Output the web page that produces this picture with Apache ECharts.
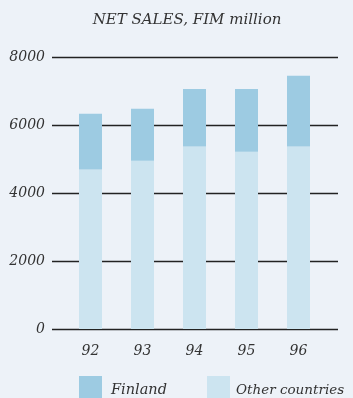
<!DOCTYPE html>
<html>
<head>
<meta charset="utf-8">
<script src="https://cdn.jsdelivr.net/npm/echarts@6/dist/echarts.min.js"></script>
<style>
  html, body { margin: 0; padding: 0; background: #edf2f8; }
  #chart { width: 353px; height: 398px; }
</style>
</head>
<body>
<div id="chart"></div>
<script>
var years = ['92', '93', '94', '95', '96'];
var otherCountries = [4690, 4950, 5370, 5210, 5370];
var finland = [1640, 1530, 1690, 1850, 2080];
var yTicks = [0, 2000, 4000, 6000, 8000];

var serif = 'DejaVu Serif';
var textColor = '#333';

var chart = echarts.init(document.getElementById('chart'));
var option = {
    backgroundColor: '#edf2f8',
    title: {
        text: 'NET SALES, FIM million',
        left: 187, top: 13, textAlign: 'center', padding: 0,
        textStyle: { fontFamily: serif, fontStyle: 'italic', fontWeight: 'normal', fontSize: 15, color: textColor }
    },
    legend: [{
        data: ['Finland'], left: 79, top: 376, itemWidth: 23, itemHeight: 28,
        icon: 'rect', itemGap: 0, padding: 0,
        textStyle: { fontFamily: serif, fontStyle: 'italic', fontSize: 14.5, color: textColor, padding: [0, 0, 0, 4] }
    }, {
        data: ['Other countries'], left: 207, top: 376, itemWidth: 23, itemHeight: 28,
        icon: 'rect', itemGap: 0, padding: 0,
        textStyle: { fontFamily: serif, fontStyle: 'italic', fontSize: 13.5, color: textColor, padding: [0, 0, 0, 1] }
    }],
    grid: [
        { left: 52, width: 286, top: 57, height: 272 },
        { left: 64.5, width: 260, top: 57, height: 272 }
    ],
    xAxis: [
        { gridIndex: 0, type: 'value', min: 0, max: 1, show: false },
        {
            gridIndex: 1, type: 'category', data: years,
            axisLine: { show: false }, axisTick: { show: false },
            axisLabel: { margin: 15, fontFamily: serif, fontStyle: 'italic', fontSize: 14, color: textColor }
        }
    ],
    yAxis: [
        {
            gridIndex: 0, type: 'value', min: yTicks[0], max: yTicks[yTicks.length - 1], interval: 2000,
            axisLine: { show: false }, axisTick: { show: false },
            axisLabel: {
                margin: 7, fontFamily: serif, fontStyle: 'italic', fontSize: 14, color: textColor,
                formatter: function (v) { return String(v); }
            },
            splitLine: { show: true, lineStyle: { color: '#222', width: 1.3 } }
        },
        { gridIndex: 1, type: 'value', min: 0, max: 8000, show: false }
    ],
    series: [
        {
            name: 'Other countries', type: 'bar', stack: 'sales', xAxisIndex: 1, yAxisIndex: 1,
            barWidth: 23, data: otherCountries, itemStyle: { color: '#cce4f0' }, z: 3
        },
        {
            name: 'Finland', type: 'bar', stack: 'sales', xAxisIndex: 1, yAxisIndex: 1,
            barWidth: 23, data: finland, itemStyle: { color: '#9dcbe2' }, z: 3
        }
    ]
};
chart.setOption(option);
</script>
</body>
</html>
